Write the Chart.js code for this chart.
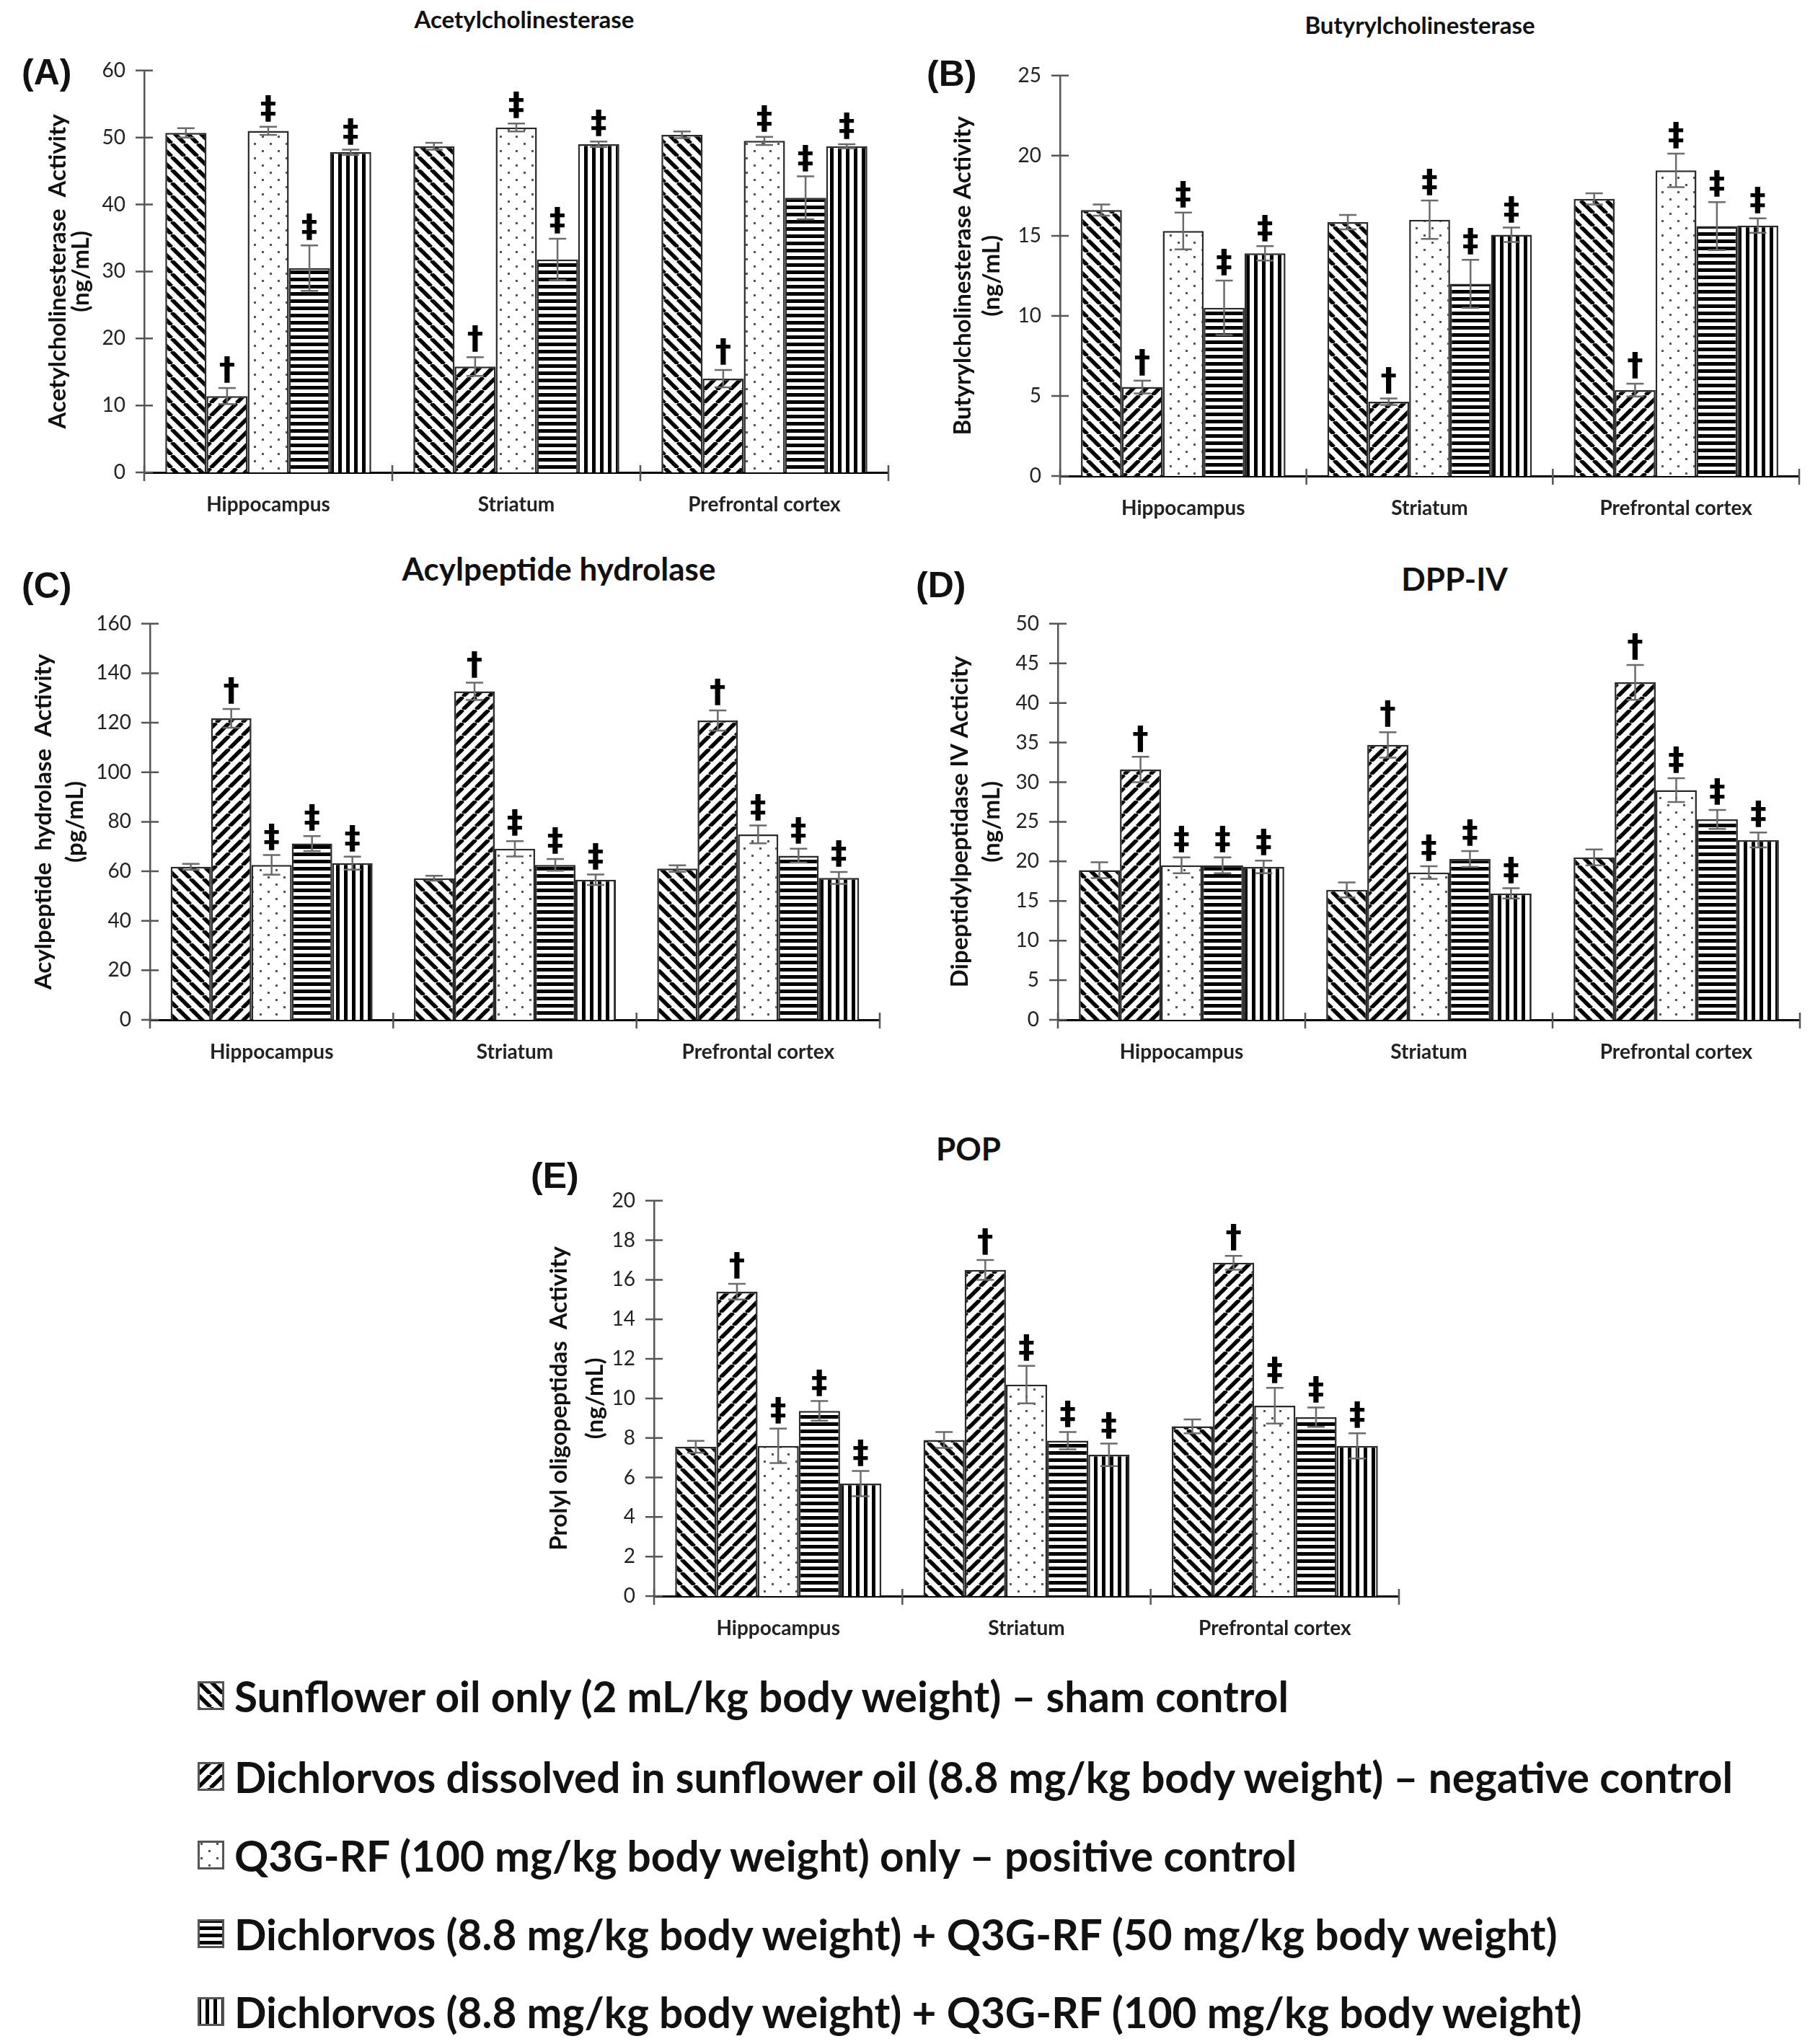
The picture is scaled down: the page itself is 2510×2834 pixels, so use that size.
<!DOCTYPE html>
<html>
<head>
<meta charset="utf-8">
<script src="https://cdn.jsdelivr.net/npm/chart.js@4.4.0/dist/chart.umd.min.js"></script>
<style>
  body { margin: 0; background: #fff; width: 2510px; height: 2834px; position: relative; overflow: hidden; font-family: Lato, "Open Sans", sans-serif; color: #111; }
  canvas.panel { position: absolute; }
  .ttl { position: absolute; transform: translate(-50%, -50%); font-weight: 700; white-space: nowrap; }
  .lbl { position: absolute; transform: translateY(-50%); font-family: "Liberation Sans", Arial, sans-serif; font-weight: 700; font-size: 50px; }
  .leg { position: absolute; left: 274px; display: flex; align-items: center; transform: translateY(-50%); font-weight: 700; font-size: 58.5px; white-space: nowrap; }
  .leg canvas { margin-right: 14px; }
</style>
</head>
<body>
<div class="ttl" style="left:727px;top:26px;font-size:33px">Acetylcholinesterase</div>
<div class="ttl" style="left:1969px;top:34px;font-size:33px">Butyrylcholinesterase</div>
<div class="ttl" style="left:775px;top:788px;font-size:44px">Acylpeptide hydrolase</div>
<div class="ttl" style="left:2017px;top:802px;font-size:44px">DPP-IV</div>
<div class="ttl" style="left:1343px;top:1592px;font-size:44px">POP</div>
<div class="lbl" style="left:30px;top:100px">(A)</div>
<div class="lbl" style="left:1285px;top:102px">(B)</div>
<div class="lbl" style="left:30px;top:812px">(C)</div>
<div class="lbl" style="left:1270px;top:811px">(D)</div>
<div class="lbl" style="left:736px;top:1630px">(E)</div>

<canvas class="panel" id="chartA"></canvas>
<canvas class="panel" id="chartB"></canvas>
<canvas class="panel" id="chartC"></canvas>
<canvas class="panel" id="chartD"></canvas>
<canvas class="panel" id="chartE"></canvas>
<div id="legend"></div>

<script>
// regions and treatment groups
const regions = ['Hippocampus', 'Striatum', 'Prefrontal cortex'];
const groupNames = [
  'Sunflower oil only (2 mL/kg body weight) \u2013 sham control',
  'Dichlorvos dissolved in sunflower oil (8.8 mg/kg body weight) \u2013 negative control',
  'Q3G-RF (100 mg/kg body weight) only \u2013 positive control',
  'Dichlorvos (8.8 mg/kg body weight) + Q3G-RF (50 mg/kg body weight)',
  'Dichlorvos (8.8 mg/kg body weight) + Q3G-RF (100 mg/kg body weight)'
];
const groupPatterns = ['back', 'fwd', 'dots', 'horiz', 'vert'];
const markers = ['', '\u2020', '\u2021', '\u2021', '\u2021'];

// (A) acetylcholinesterase, one row per group: hippocampus, striatum, prefrontal
const achMeans  = [[50.7, 48.7, 50.4], [11.4, 15.8, 14.0], [51.0, 51.5, 49.5], [30.5, 31.8, 41.0], [47.8, 49.0, 48.7]];
const achErrors = [[0.7, 0.5, 0.5], [1.2, 1.4, 1.3], [0.6, 0.6, 0.6], [3.4, 3.1, 3.2], [0.4, 0.4, 0.3]];
const achTicks  = [0, 10, 20, 30, 40, 50, 60];

// (B) butyrylcholinesterase
const bchMeans  = [[16.6, 15.85, 17.3], [5.56, 4.64, 5.36], [15.3, 16.0, 19.08], [10.5, 12.0, 15.6], [13.9, 15.06, 15.64]];
const bchErrors = [[0.35, 0.45, 0.35], [0.4, 0.2, 0.4], [1.15, 1.2, 1.05], [1.7, 1.5, 1.5], [0.45, 0.45, 0.45]];
const bchTicks  = [0, 5, 10, 15, 20, 25];

// (C) acylpeptide hydrolase
const aphMeans  = [[61.8, 57.2, 61.1], [121.8, 132.7, 120.9], [62.6, 69.1, 74.9], [71.2, 62.6, 66.3], [63.3, 56.6, 57.3]];
const aphErrors = [[1.2, 1.0, 1.3], [3.8, 3.5, 4.1], [4.0, 3.1, 3.6], [3.0, 2.4, 2.8], [2.6, 2.1, 2.4]];
const aphTicks  = [0, 20, 40, 60, 80, 100, 120, 140, 160];

// (D) DPP-IV
const dppMeans  = [[18.9, 16.4, 20.5], [31.6, 34.7, 42.6], [19.5, 18.6, 29.0], [19.5, 20.3, 25.3], [19.3, 15.96, 22.7]];
const dppErrors = [[1.0, 0.95, 1.0], [1.6, 1.6, 2.2], [1.0, 0.8, 1.5], [1.0, 1.0, 1.2], [0.8, 0.65, 0.95]];
const dppTicks  = [0, 5, 10, 15, 20, 25, 30, 35, 40, 45, 50];

// (E) POP
const popMeans  = [[7.55, 7.9, 8.59], [15.4, 16.5, 16.86], [7.6, 10.7, 9.63], [9.37, 7.86, 9.05], [5.69, 7.15, 7.6]];
const popErrors = [[0.3, 0.4, 0.35], [0.4, 0.5, 0.35], [0.87, 0.95, 0.9], [0.5, 0.44, 0.49], [0.64, 0.57, 0.64]];
const popTicks  = [0, 2, 4, 6, 8, 10, 12, 14, 16, 18, 20];

function makePattern(kind) {
  const c = document.createElement('canvas');
  const g = c.getContext('2d');
  if (kind === 'back' || kind === 'fwd') {
    const s = 18;
    c.width = s; c.height = s;
    g.fillStyle = '#fff'; g.fillRect(0, 0, s, s);
    g.strokeStyle = '#000'; g.lineWidth = 5.5;
    for (let k = -1; k <= 1; k++) {
      g.beginPath();
      if (kind === 'back') { g.moveTo(k * s, 0); g.lineTo(k * s + s, s); }
      else { g.moveTo(k * s + s, 0); g.lineTo(k * s, s); }
      g.stroke();
    }
  } else if (kind === 'dots') {
    c.width = 22; c.height = 20;
    g.fillStyle = '#fff'; g.fillRect(0, 0, 22, 20);
    g.fillStyle = '#555';
    g.fillRect(4, 3, 3, 3);
    g.fillRect(15, 13, 3, 3);
  } else if (kind === 'horiz') {
    c.width = 10; c.height = 10;
    g.fillStyle = '#fff'; g.fillRect(0, 0, 10, 10);
    g.fillStyle = '#000'; g.fillRect(0, 0, 10, 5);
  } else {
    c.width = 11; c.height = 10;
    g.fillStyle = '#fff'; g.fillRect(0, 0, 11, 10);
    g.fillStyle = '#000'; g.fillRect(0, 0, 5, 10);
  }
  return g.createPattern(c, 'repeat');
}
const patterns = groupPatterns.map(makePattern);

const errorPlugin = {
  id: 'errorBars',
  afterDatasetsDraw(chart) {
    const ctx = chart.ctx;
    const y = chart.scales.y;
    chart.data.datasets.forEach((ds, i) => {
      const meta = chart.getDatasetMeta(i);
      meta.data.forEach((bar, j) => {
        const v = ds.data[j], e = ds.errors[j];
        const yt = y.getPixelForValue(v + e);
        const yb = y.getPixelForValue(v - e);
        ctx.save();
        ctx.strokeStyle = '#6b6b6b';
        ctx.lineWidth = 2.5;
        ctx.beginPath();
        ctx.moveTo(bar.x, yb); ctx.lineTo(bar.x, yt);
        ctx.moveTo(bar.x - 12, yt); ctx.lineTo(bar.x + 12, yt);
        ctx.moveTo(bar.x - 12, yb); ctx.lineTo(bar.x + 12, yb);
        ctx.stroke();
        if (ds.mark) {
          ctx.fillStyle = '#000';
          ctx.font = 'bold 45px "DejaVu Sans"';
          ctx.textAlign = 'center';
          ctx.textBaseline = 'bottom';
          ctx.fillText(ds.mark, bar.x, yt);
        }
        ctx.restore();
      });
    });
  },
  afterDraw(chart) {
    const ctx = chart.ctx;
    const a = chart.chartArea;
    const y = chart.scales.y;
    ctx.save();
    ctx.strokeStyle = '#555';
    ctx.lineWidth = 2.5;
    ctx.beginPath();
    y.ticks.forEach(t => {
      const py = y.getPixelForValue(t.value);
      ctx.moveTo(a.left - 12, py); ctx.lineTo(a.left + 12, py);
    });
    const n = chart.data.labels.length;
    for (let i = 0; i <= n; i++) {
      const px = a.left + i * (a.right - a.left) / n;
      ctx.moveTo(px, a.bottom - 10); ctx.lineTo(px, a.bottom + 12);
    }
    ctx.stroke();
    ctx.restore();
  }
};

function buildPanel(id, means, errors, ticks, yTitle, box) {
  const yWidth = 160;
  const padTop = 40, xHeight = 70, padRight = 10;
  const canvasLeft = box.left - yWidth;
  const canvas = document.getElementById(id);
  canvas.width = box.right + padRight - canvasLeft;
  canvas.height = padTop + (box.bottom - box.top) + xHeight;
  canvas.style.left = canvasLeft + 'px';
  canvas.style.top = (box.top - padTop) + 'px';
  const lineH = box.t2 - box.t1;

  new Chart(canvas.getContext('2d'), {
    type: 'bar',
    data: {
      labels: regions,
      datasets: means.map((m, i) => ({
        label: groupNames[i],
        data: m,
        errors: errors[i],
        mark: markers[i],
        backgroundColor: patterns[i],
        borderColor: '#2a2a2a',
        borderWidth: 2.5,
        categoryPercentage: 0.83,
        barPercentage: 1.0
      }))
    },
    options: {
      responsive: false,
      animation: false,
      devicePixelRatio: 1,
      layout: { padding: { top: padTop, left: 0, right: padRight, bottom: 0 } },
      plugins: { legend: { display: false }, tooltip: { enabled: false } },
      scales: {
        x: {
          offset: true,
          grid: { display: false, drawTicks: false },
          border: { display: true, color: '#000', width: 3 },
          ticks: { padding: 28, maxRotation: 0, color: '#222', font: { family: 'Lato', size: 28, weight: 'bold' } },
          afterFit: s => { s.height = xHeight; }
        },
        y: {
          min: ticks[0],
          max: ticks[ticks.length - 1],
          grid: { display: false, drawTicks: false },
          border: { display: true, color: '#555', width: 2.5 },
          ticks: { padding: 26, color: '#222', font: { family: 'Lato', size: 28 } },
          afterBuildTicks: s => { s.ticks = ticks.map(v => ({ value: v })); },
          title: {
            display: true,
            text: yTitle,
            color: '#111',
            padding: { top: box.t1 - canvasLeft - lineH / 2, bottom: 0 },
            font: { family: 'Lato', size: 33, weight: 'bold', lineHeight: lineH + 'px' }
          },
          afterFit: s => { s.width = yWidth; }
        }
      }
    },
    plugins: [errorPlugin]
  });
}

buildPanel('chartA', achMeans, achErrors, achTicks, ['Acetylcholinesterase  Activity', '(ng/mL)'],
  { left: 200, right: 1232, top: 95, bottom: 655, t1: 80, t2: 112 });
buildPanel('chartB', bchMeans, bchErrors, bchTicks, ['Butyrylcholinesterase Activity', '(ng/mL)'],
  { left: 1470, right: 2495, top: 102, bottom: 660, t1: 1335, t2: 1375 });
buildPanel('chartC', aphMeans, aphErrors, aphTicks, ['Acylpeptide  hydrolase  Activity', '(pg/mL)'],
  { left: 208, right: 1220, top: 862, bottom: 1414, t1: 60, t2: 104 });
buildPanel('chartD', dppMeans, dppErrors, dppTicks, ['Dipeptidylpeptidase IV Acticity', '(ng/mL)'],
  { left: 1467, right: 2496, top: 862, bottom: 1414, t1: 1331, t2: 1375 });
buildPanel('chartE', popMeans, popErrors, popTicks, ['Prolyl oligopeptidas  Activity', '(ng/mL)'],
  { left: 907, right: 1940, top: 1662, bottom: 2213, t1: 775, t2: 825 });

// legend rows
const legendY = [2351, 2463, 2572, 2681, 2789];
const legendBox = document.getElementById('legend');
groupNames.forEach((name, i) => {
  const row = document.createElement('div');
  row.className = 'leg';
  row.style.top = legendY[i] + 'px';
  const sw = document.createElement('canvas');
  sw.width = 37; sw.height = 40;
  const g = sw.getContext('2d');
  g.fillStyle = patterns[i];
  g.fillRect(0, 0, 37, 40);
  g.strokeStyle = '#555';
  g.lineWidth = 3;
  g.strokeRect(1.5, 1.5, 34, 37);
  const tx = document.createElement('span');
  tx.textContent = name;
  row.appendChild(sw);
  row.appendChild(tx);
  legendBox.appendChild(row);
});
</script>
</body>
</html>
